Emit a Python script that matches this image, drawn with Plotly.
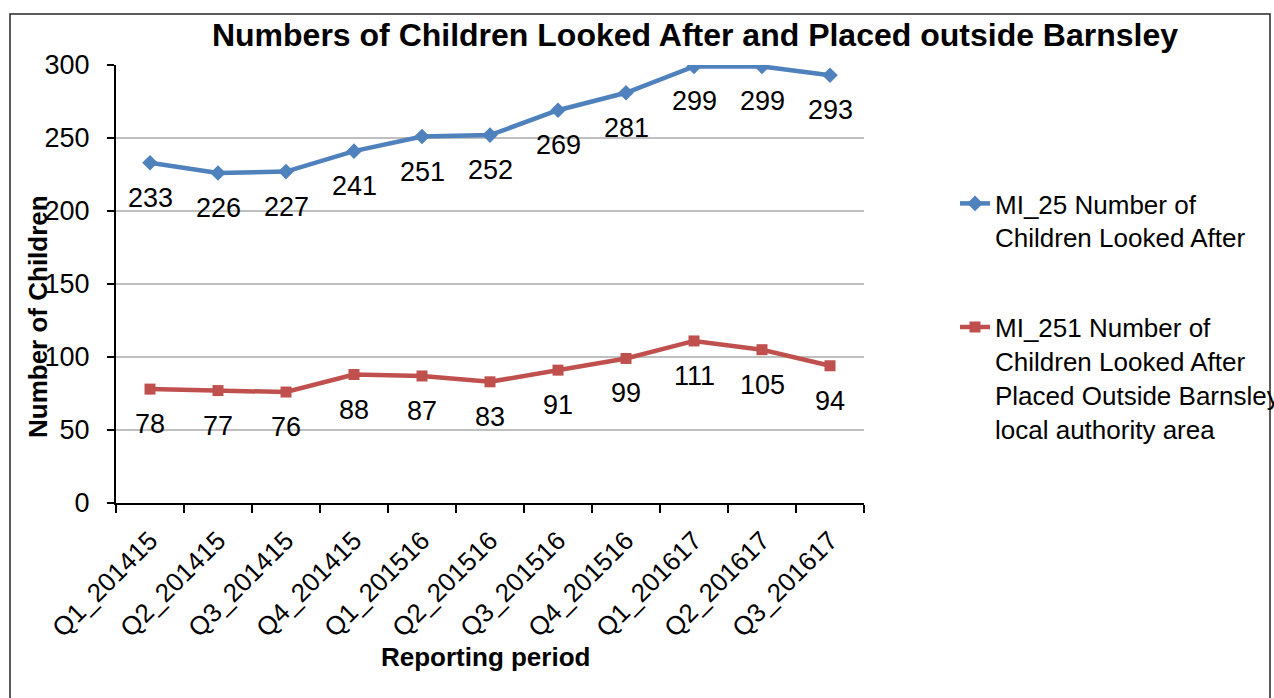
import plotly.graph_objects as go

# Reporting periods (quarters) and the two monitored indicators
periods = ["Q1_201415", "Q2_201415", "Q3_201415", "Q4_201415",
           "Q1_201516", "Q2_201516", "Q3_201516", "Q4_201516",
           "Q1_201617", "Q2_201617", "Q3_201617"]
looked_after = [233, 226, 227, 241, 251, 252, 269, 281, 299, 299, 293]
placed_outside = [78, 77, 76, 88, 87, 83, 91, 99, 111, 105, 94]
y_ticks = [0, 50, 100, 150, 200, 250, 300]

BLUE = "#4F81BD"
RED = "#C0504D"
FONT = "Liberation Sans, Arial, sans-serif"

W, H = 1274, 698
L, R, T, B = 116, 864, 65, 503  # plot area edges in pixels

fig = go.Figure()
fig.add_trace(go.Scatter(
    x=periods, y=looked_after, mode="lines+markers",
    name="MI_25 Number of<br>Children Looked After",
    legendgroup="a",
    line=dict(color=BLUE, width=4.5),
    marker=dict(symbol="diamond", size=12, color=BLUE),
))
fig.add_trace(go.Scatter(
    x=periods, y=placed_outside, mode="lines+markers",
    name="MI_251 Number of<br>Children Looked After<br>Placed Outside Barnsley<br>local authority area",
    legendgroup="b",
    line=dict(color=RED, width=4.5),
    marker=dict(symbol="square", size=11, color=RED),
))

# Value labels below each point
for series in (looked_after, placed_outside):
    for p, v in zip(periods, series):
        fig.add_annotation(x=p, y=v, xref="x", yref="y", text=str(v),
                           showarrow=False, yshift=-35,
                           xanchor="center", yanchor="middle",
                           font=dict(family=FONT, size=27, color="black"))

pw, ph = R - L, B - T
def px_x(px):
    return (px - L) / pw
def px_y(py):
    return (B - py) / ph

# Axis titles
fig.add_annotation(x=px_x(485), y=px_y(657), xref="paper", yref="paper",
                   text="<b>Reporting period</b>", showarrow=False,
                   xanchor="center", yanchor="middle",
                   font=dict(family=FONT, size=26, color="black"))
fig.add_annotation(x=px_x(38), y=px_y(317), xref="paper", yref="paper",
                   text="<b>Number of Children</b>", showarrow=False, textangle=-90,
                   xanchor="center", yanchor="middle",
                   font=dict(family=FONT, size=26, color="black"))

# Outer chart frame
fig.add_shape(type="rect", xref="paper", yref="paper",
              x0=px_x(10), x1=px_x(1270), y0=px_y(720), y1=px_y(14),
              line=dict(color="#262626", width=1.5), fillcolor="rgba(0,0,0,0)")

fig.update_layout(
    width=W, height=H,
    margin=dict(l=L, r=W - R, t=T, b=H - B, autoexpand=False),
    paper_bgcolor="white", plot_bgcolor="white",
    font=dict(family=FONT, size=26, color="black"),
    title=dict(text="<b>Numbers of Children Looked After and Placed outside Barnsley</b>",
               x=695 / W, xanchor="center", y=1 - 35 / H, yanchor="middle",
               font=dict(family=FONT, size=32, color="black")),
    showlegend=True,
    legend=dict(x=px_x(955), y=px_y(180), xanchor="left", yanchor="top",
                valign="top", tracegroupgap=53, traceorder="grouped",
                font=dict(family=FONT, size=26, color="black"),
                bgcolor="rgba(0,0,0,0)"),
    xaxis=dict(type="category", categoryorder="array", categoryarray=periods,
               range=[-0.5, len(periods) - 0.5],
               tickangle=-45, tickson="boundaries", ticks="outside", ticklen=8,
               tickwidth=2, tickcolor="black", showline=True, linecolor="black",
               linewidth=2, showgrid=False, zeroline=False, ticklabelstandoff=10,
               tickfont=dict(family=FONT, size=26, color="black")),
    yaxis=dict(range=[0, 300], tickvals=y_ticks, ticks="outside", ticklen=7,
               tickwidth=2, tickcolor="black", showline=True, linecolor="black",
               linewidth=2, showgrid=True, gridcolor="#BFBFBF", gridwidth=1.5,
               zeroline=False, ticklabelstandoff=12,
               tickfont=dict(family=FONT, size=27, color="black")),
)

fig.write_html("out.html")
